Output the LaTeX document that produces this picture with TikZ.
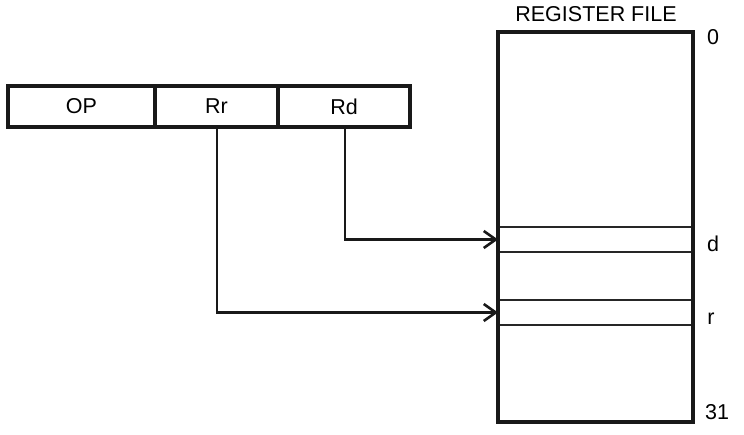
\documentclass[tikz,border=0pt]{standalone}
\usepackage{fontspec}
\setmainfont{Liberation Sans}
\usetikzlibrary{arrows.meta}
\begin{document}
\begin{tikzpicture}[x=1pt,y=-1pt,
  lbl/.style={font=\fontsize{21.5}{24}\selectfont, inner sep=0pt},
  outer/.style={line width=3.4pt, draw=black!90},
  slot/.style={line width=2.2pt, draw=black!85},
  link/.style={line width=2.6pt, draw=black!90, -{Straight Barb[length=12pt,width=17pt,line width=2.6pt]}}]
\useasboundingbox (0,0) rectangle (744,434);
% instruction word
\draw[outer] (8,86) rectangle (410,127);
\draw[outer] (155,86) -- (155,127);
\draw[outer] (278,86) -- (278,127);
\node[lbl] (op) at (81.5,106.5) {OP};
\node[lbl] (rr) at (216.5,106.5) {Rr};
\node[lbl] (rd) at (344,106.5) {Rd};
\coordinate (rrb) at (217,127);
\coordinate (rdb) at (345,127);
% register file
\node[lbl] (title) at (596,14) {REGISTER FILE};
\draw[slot] (498,227) -- (693,227);
\draw[slot] (498,252) -- (693,252);
\draw[slot] (498,300) -- (693,300);
\draw[slot] (498,325) -- (693,325);
\draw[outer] (498,32) rectangle (693,422);
\coordinate (regd) at (498,239.5);
\coordinate (regr) at (498,312.5);
\node[lbl] (n0) at (713,37) {0};
\node[lbl] (nd) at (713,244) {d};
\node[lbl] (nr) at (711,319) {r};
\node[lbl] (n31) at (717,412) {31};
% operand selects
\draw[link] (rdb) |- (regd);
\draw[link] (rrb) |- (regr);
\end{tikzpicture}
\end{document}
